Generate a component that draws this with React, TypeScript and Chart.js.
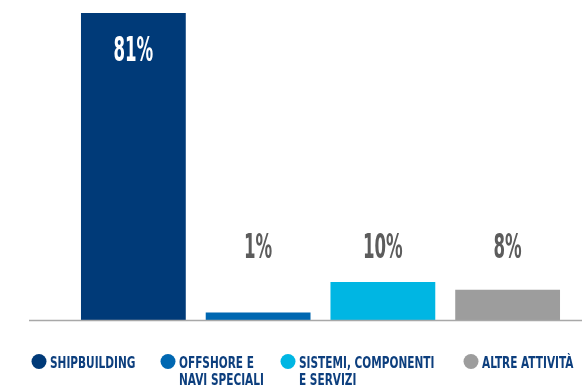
import React, { useEffect, useRef } from "react";
import { Chart, registerables } from "chart.js";

Chart.register(...registerables);

const categories: string[][] = [
  ["SHIPBUILDING"],
  ["OFFSHORE E", "NAVI SPECIALI"],
  ["SISTEMI, COMPONENTI", "E SERVIZI"],
  ["ALTRE ATTIVITÀ"],
];
const shares: number[] = [81, 2, 10, 8];
const shareLabels: string[] = ["81%", "1%", "10%", "8%"];
const colors: string[] = ["#003a78", "#0067b1", "#00b6e3", "#9d9d9d"];

const FONT = "'DejaVu Sans Condensed', 'DejaVu Sans', sans-serif";

function drawNarrow(
  ctx: CanvasRenderingContext2D,
  text: string,
  x: number,
  y: number,
  sx: number,
  align: "left" | "center"
) {
  ctx.save();
  ctx.translate(x, y);
  ctx.scale(sx, 1);
  ctx.textAlign = align;
  ctx.fillText(text, 0, 0);
  ctx.restore();
}

const decorPlugin = {
  id: "decor",
  afterDatasetsDraw(chart: any) {
    const ctx = chart.ctx as CanvasRenderingContext2D;
    const area = chart.chartArea;
    const meta = chart.getDatasetMeta(0);
    ctx.save();
    // baseline
    ctx.strokeStyle = "#a8a8a8";
    ctx.lineWidth = 1.5;
    ctx.beginPath();
    ctx.moveTo(29, area.bottom + 0.5);
    ctx.lineTo(chart.width, area.bottom + 0.5);
    ctx.stroke();

    // value labels
    ctx.font = `bold 33px ${FONT}`;
    ctx.textBaseline = "alphabetic";
    meta.data.forEach((bar: any, i: number) => {
      if (i === 0) {
        ctx.fillStyle = "#ffffff";
        drawNarrow(ctx, shareLabels[i], bar.x, bar.y + 48, 0.56, "center");
      } else {
        ctx.fillStyle = "#5c5c5c";
        drawNarrow(ctx, shareLabels[i], bar.x, area.bottom - 62, 0.56, "center");
      }
    });

    // legend
    const legendX = [31, 160, 280, 463];
    const y0 = 368;
    ctx.font = `bold 16.5px ${FONT}`;
    ctx.textBaseline = "alphabetic";
    categories.forEach((lines, i) => {
      ctx.fillStyle = colors[i];
      ctx.beginPath();
      ctx.arc(legendX[i] + 8, 361.5, 7.5, 0, Math.PI * 2);
      ctx.fill();
      ctx.fillStyle = "#0d3f7e";
      lines.forEach((t, j) => {
        drawNarrow(ctx, t, legendX[i] + 19, y0 + j * 17, 0.71, "left");
      });
    });
    ctx.restore();
  },
};

export default function App() {
  const ref = useRef<HTMLCanvasElement | null>(null);
  useEffect(() => {
    if (!ref.current) return;
    const chart = new Chart(ref.current, {
      type: "bar",
      data: {
        labels: categories,
        datasets: [
          {
            data: shares,
            backgroundColor: colors,
            borderWidth: 0,
            categoryPercentage: 1,
            barPercentage: 0.84,
          },
        ],
      },
      options: {
        animation: false,
        responsive: false,
        maintainAspectRatio: false,
        layout: { padding: { top: 13, bottom: 67, left: 71, right: 12 } },
        plugins: { legend: { display: false }, tooltip: { enabled: false } },
        scales: {
          x: { display: false },
          y: { display: false, min: 0, max: 81 },
        },
      },
      plugins: [decorPlugin],
    });
    return () => chart.destroy();
  }, []);
  return (
    <div style={{ position: "fixed", left: 0, top: 0, width: 582, height: 387, background: "#fff" }}>
      <canvas ref={ref} width={582} height={387} style={{ width: 582, height: 387 }} />
    </div>
  );
}
